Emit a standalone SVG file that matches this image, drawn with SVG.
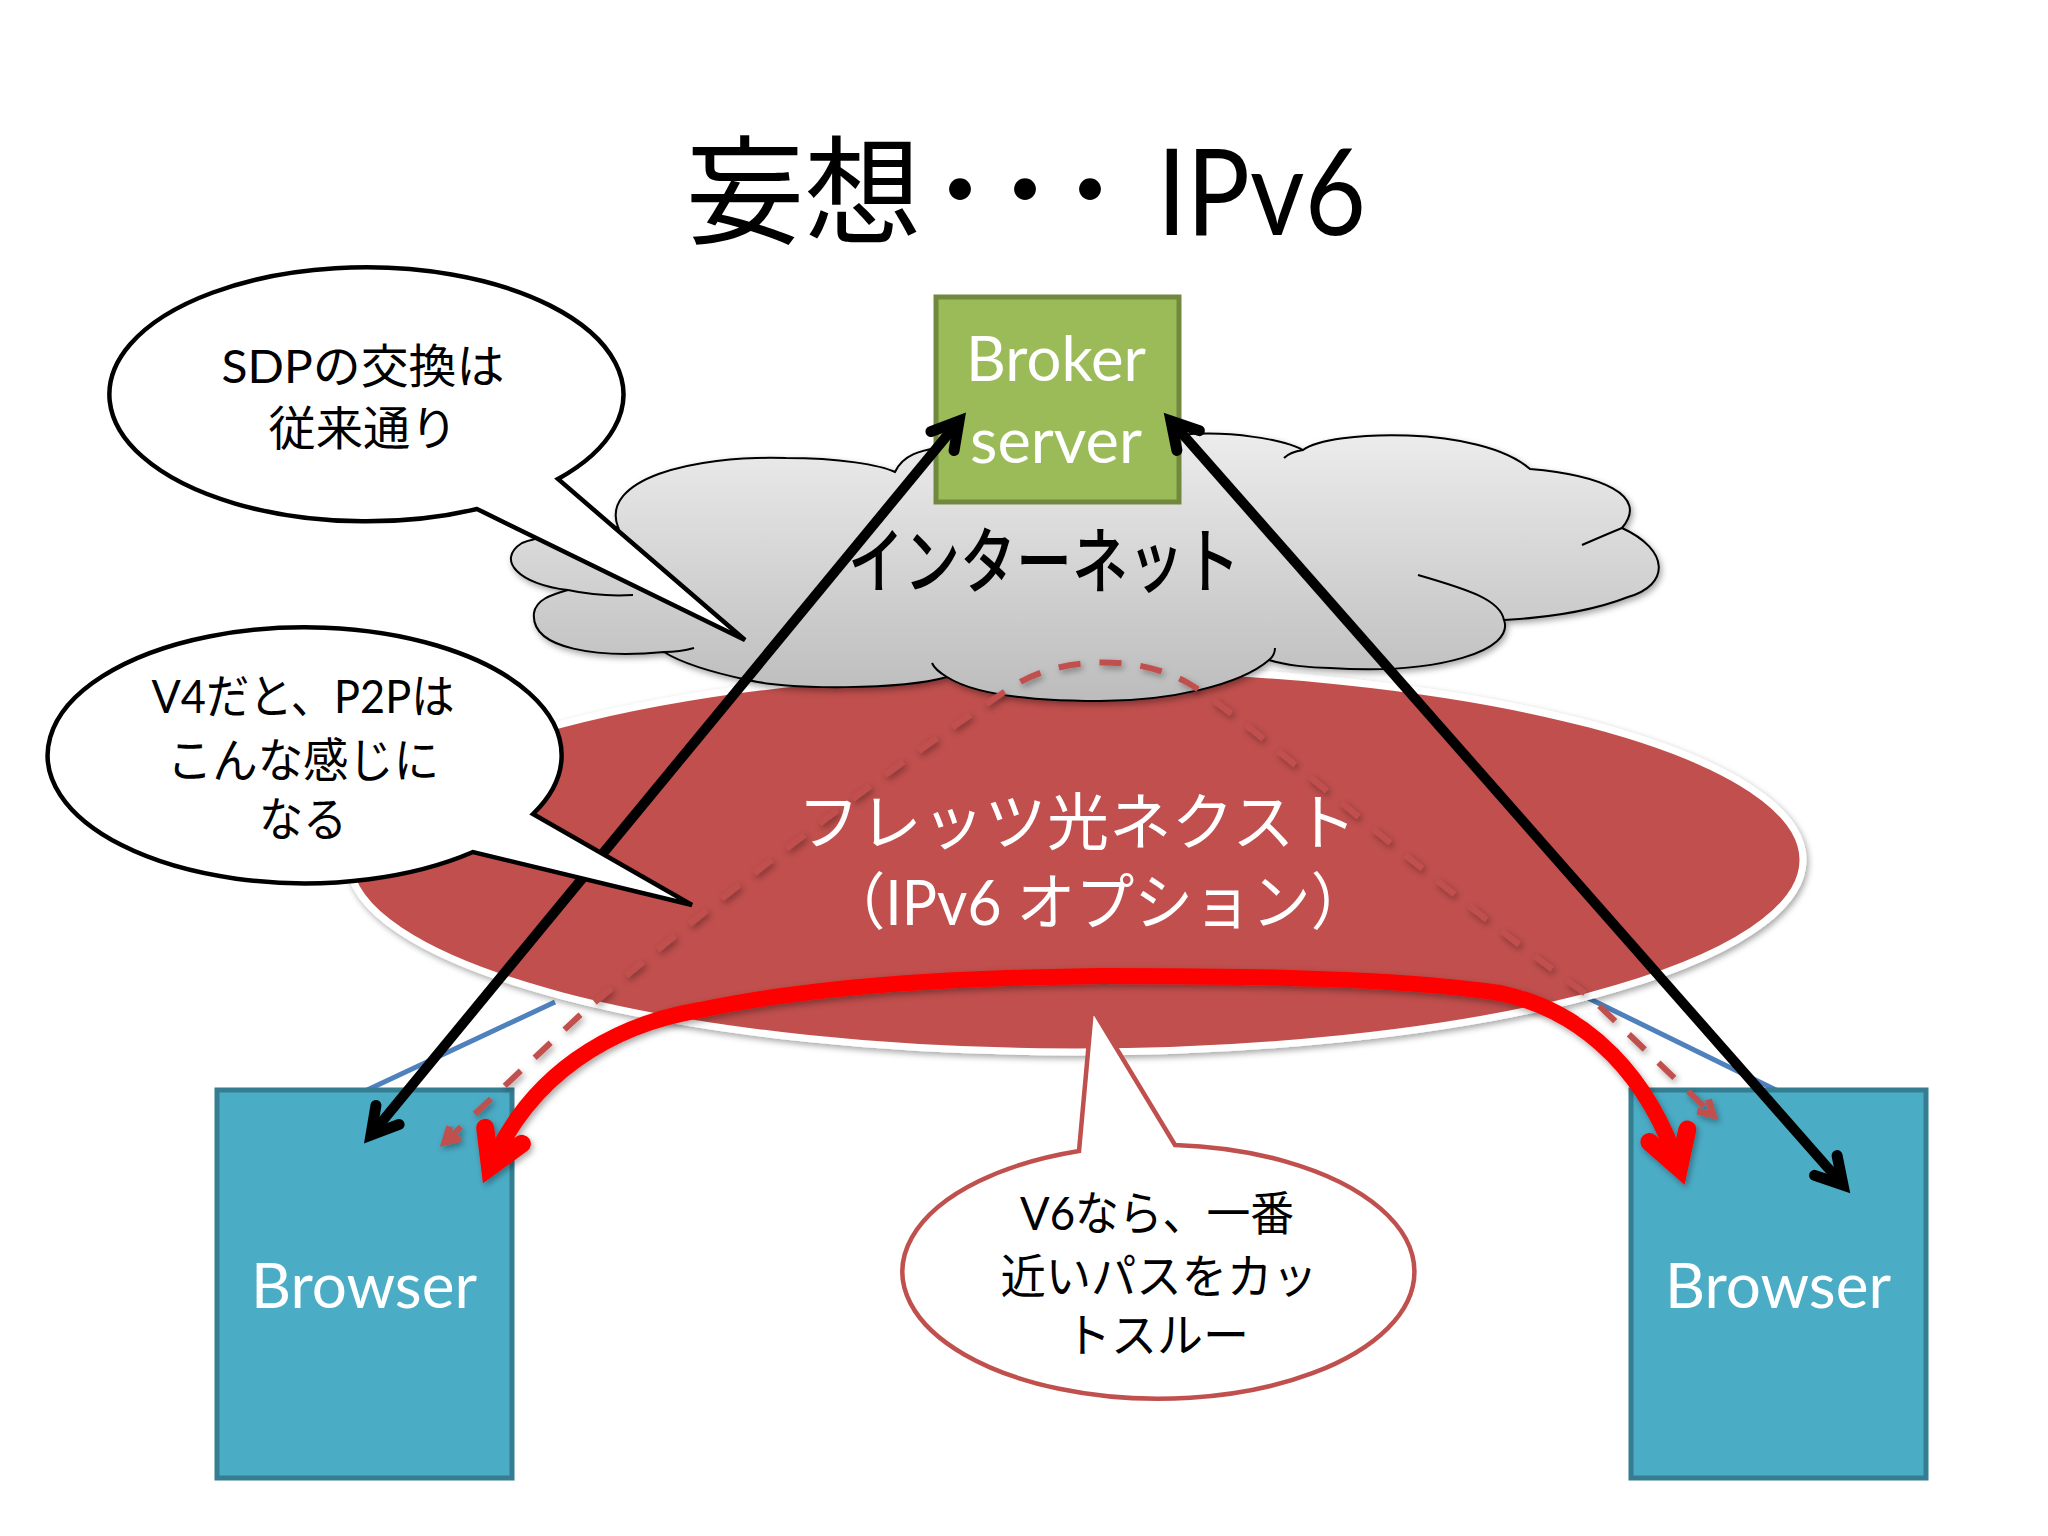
<svg xmlns="http://www.w3.org/2000/svg" width="2048" height="1536" viewBox="0 0 2048 1536">
<defs>
<style>
text{font-family:"Lato","Noto Sans CJK JP",sans-serif;text-anchor:middle}
.b{font-size:47px;fill:#000}
.w{font-size:62px;fill:#fff}
.t{fill:#000;text-anchor:start}
.bubble{fill:#fff;stroke:#000;stroke-width:4.5}
.box{stroke-width:5}
</style>
<linearGradient id="cg" x1="0" y1="0" x2="0" y2="1"><stop offset="0" stop-color="#ececec"/><stop offset="1" stop-color="#bcbcbc"/></linearGradient>
<filter id="sh" x="-10%" y="-10%" width="120%" height="125%"><feDropShadow dx="2" dy="3" stdDeviation="3" flood-color="#000" flood-opacity=".35"/></filter>
<marker id="ab" markerUnits="userSpaceOnUse" markerWidth="100" markerHeight="100" viewBox="-60 -50 100 100" refX="0" refY="0" orient="auto-start-reverse"><path d="M-26 -15L0 0L-26 15" fill="none" stroke="#000" stroke-width="11" stroke-linecap="round" stroke-linejoin="miter" stroke-miterlimit="10"/></marker>
<marker id="ar" markerUnits="userSpaceOnUse" markerWidth="140" markerHeight="140" viewBox="-80 -70 140 140" refX="0" refY="0" orient="auto-start-reverse"><path d="M-34 -20L0 0L-34 20" fill="none" stroke="#f00" stroke-width="18" stroke-linecap="round" stroke-linejoin="miter" stroke-miterlimit="10"/></marker>
<marker id="ad" markerUnits="userSpaceOnUse" markerWidth="60" markerHeight="60" viewBox="-40 -30 60 60" refX="0" refY="0" orient="auto-start-reverse"><path d="M-14 -8L0 0L-14 8" fill="none" stroke="#c0504d" stroke-width="7" stroke-linejoin="miter" stroke-miterlimit="10"/></marker>
</defs>
<rect width="2048" height="1536" fill="#fff"/>
<g id="title">
<text class="t" x="686" y="235" font-size="118">妄想</text>
<text class="t" x="921" y="219" font-size="78" font-weight="900" letter-spacing="-13">・・・</text>
<text class="t" x="1157" y="235" font-size="120" textLength="209" lengthAdjust="spacingAndGlyphs">IPv6</text>
</g>
<g id="links-under">
<path d="M365 1091L555 1002M1588 998L1778 1091" fill="none" stroke="#4f81bd" stroke-width="5"/>
</g>
<g id="flets">
<ellipse cx="1076" cy="860" rx="727" ry="192" fill="#c0504d" stroke="#fff" stroke-width="7" filter="url(#sh)"/>
<text class="w" x="1077" y="845" textLength="559">フレッツ光ネクスト</text>
<text class="w" x="1098" y="925" textLength="543" lengthAdjust="spacingAndGlyphs">（IPv6 オプション）</text>
</g>
<g id="internet">
<path d="M618 527C600 480 690 455 786 458C840 458 880 465 895 472C905 450 930 450 950 445L1180 435C1230 430 1285 440 1303 450C1330 430 1480 425 1530 469C1600 475 1650 495 1622 528C1670 550 1670 585 1628 597C1590 612 1540 618 1504 620C1515 650 1440 675 1330 668C1310 668 1285 665 1269 660C1240 685 1170 701 1100 701C1035 701 975 695 947 677C900 690 790 690 748 680C710 672 680 662 664 652C600 658 530 650 534 613C536 600 550 595 568 590C520 585 495 560 522 543C540 535 590 530 618 527Z" fill="url(#cg)" stroke="#000" stroke-width="2" filter="url(#sh)"/>
<path d="M1303 450Q1290 452 1284 458M1622 528Q1605 535 1582 545M1418 575C1470 590 1500 600 1504 620M1269 660Q1275 655 1275 648M947 677Q935 670 932 663M664 652Q680 652 694 648M568 590Q600 597 633 595M618 527Q622 540 628 552" fill="none" stroke="#000" stroke-width="2"/>
<text x="1044" y="587" font-size="72" font-weight="500" fill="#000" textLength="392" lengthAdjust="spacingAndGlyphs">インターネット</text>
</g>
<g id="broker">
<rect class="box" x="936" y="297" width="243" height="205" fill="#9bbb59" stroke="#71893f"/>
<text class="w" x="1056" y="381" textLength="180" lengthAdjust="spacingAndGlyphs">Broker</text>
<text class="w" x="1056" y="463" textLength="172" lengthAdjust="spacingAndGlyphs">server</text>
</g>
<g id="browser-left">
<rect class="box" x="217" y="1090" width="295" height="388" fill="#4bacc6" stroke="#357d91"/>
<text class="w" x="364" y="1308" textLength="226" lengthAdjust="spacingAndGlyphs">Browser</text>
</g>
<g id="browser-right">
<rect class="box" x="1631" y="1090" width="295" height="388" fill="#4bacc6" stroke="#357d91"/>
<text class="w" x="1778" y="1308" textLength="226" lengthAdjust="spacingAndGlyphs">Browser</text>
</g>
<g id="connectors" fill="none">
<path d="M445 1142L578 1017C700 910 900 760 1012 687C1060 655 1140 655 1188 683C1250 720 1400 860 1590 997L1713 1115" stroke="#c0504d" stroke-width="6" stroke-dasharray="22 19" marker-start="url(#ad)" marker-end="url(#ad)" filter="url(#sh)"/>
<path d="M371 1135L959 421" stroke="#000" stroke-width="10" marker-start="url(#ab)" marker-end="url(#ab)"/>
<path d="M1171 421L1843 1185" stroke="#000" stroke-width="10" marker-start="url(#ab)" marker-end="url(#ab)"/>
<path d="M490 1167C530 1075 610 1025 700 1010C820 985 950 978 1100 976C1250 976 1400 978 1500 993C1590 1012 1650 1080 1679 1168" stroke="#f00" stroke-width="16" marker-start="url(#ar)" marker-end="url(#ar)" filter="url(#sh)"/>
</g>
<g id="bubble-sdp">
<path class="bubble" d="M558 479A257 127 0 1 0 477 509L745 640Z"/>
<text class="b" x="363" y="383" textLength="283" lengthAdjust="spacingAndGlyphs">SDPの交換は</text>
<text class="b" x="363" y="445" textLength="189" lengthAdjust="spacingAndGlyphs">従来通り</text>
</g>
<g id="bubble-v4">
<path class="bubble" d="M533 814A257 128 0 1 0 473 852L692 905Z"/>
<text class="b" x="303" y="713" textLength="303" lengthAdjust="spacingAndGlyphs">V4だと、P2Pは</text>
<text class="b" x="303" y="777" textLength="272" lengthAdjust="spacingAndGlyphs">こんな感じに</text>
<text class="b" x="303" y="836" textLength="88" lengthAdjust="spacingAndGlyphs">なる</text>
</g>
<g id="bubble-v6">
<path class="bubble" style="stroke:#c0504d" d="M1175 1145A256 127 0 1 1 1079 1151L1092 1008Z"/>
<text class="b" x="1157" y="1230" textLength="274" lengthAdjust="spacingAndGlyphs">V6なら、一番</text>
<text class="b" x="1159" y="1293" textLength="317" lengthAdjust="spacingAndGlyphs">近いパスをカッ</text>
<text class="b" x="1157" y="1352" textLength="184" lengthAdjust="spacingAndGlyphs">トスルー</text>
</g>
</svg>
